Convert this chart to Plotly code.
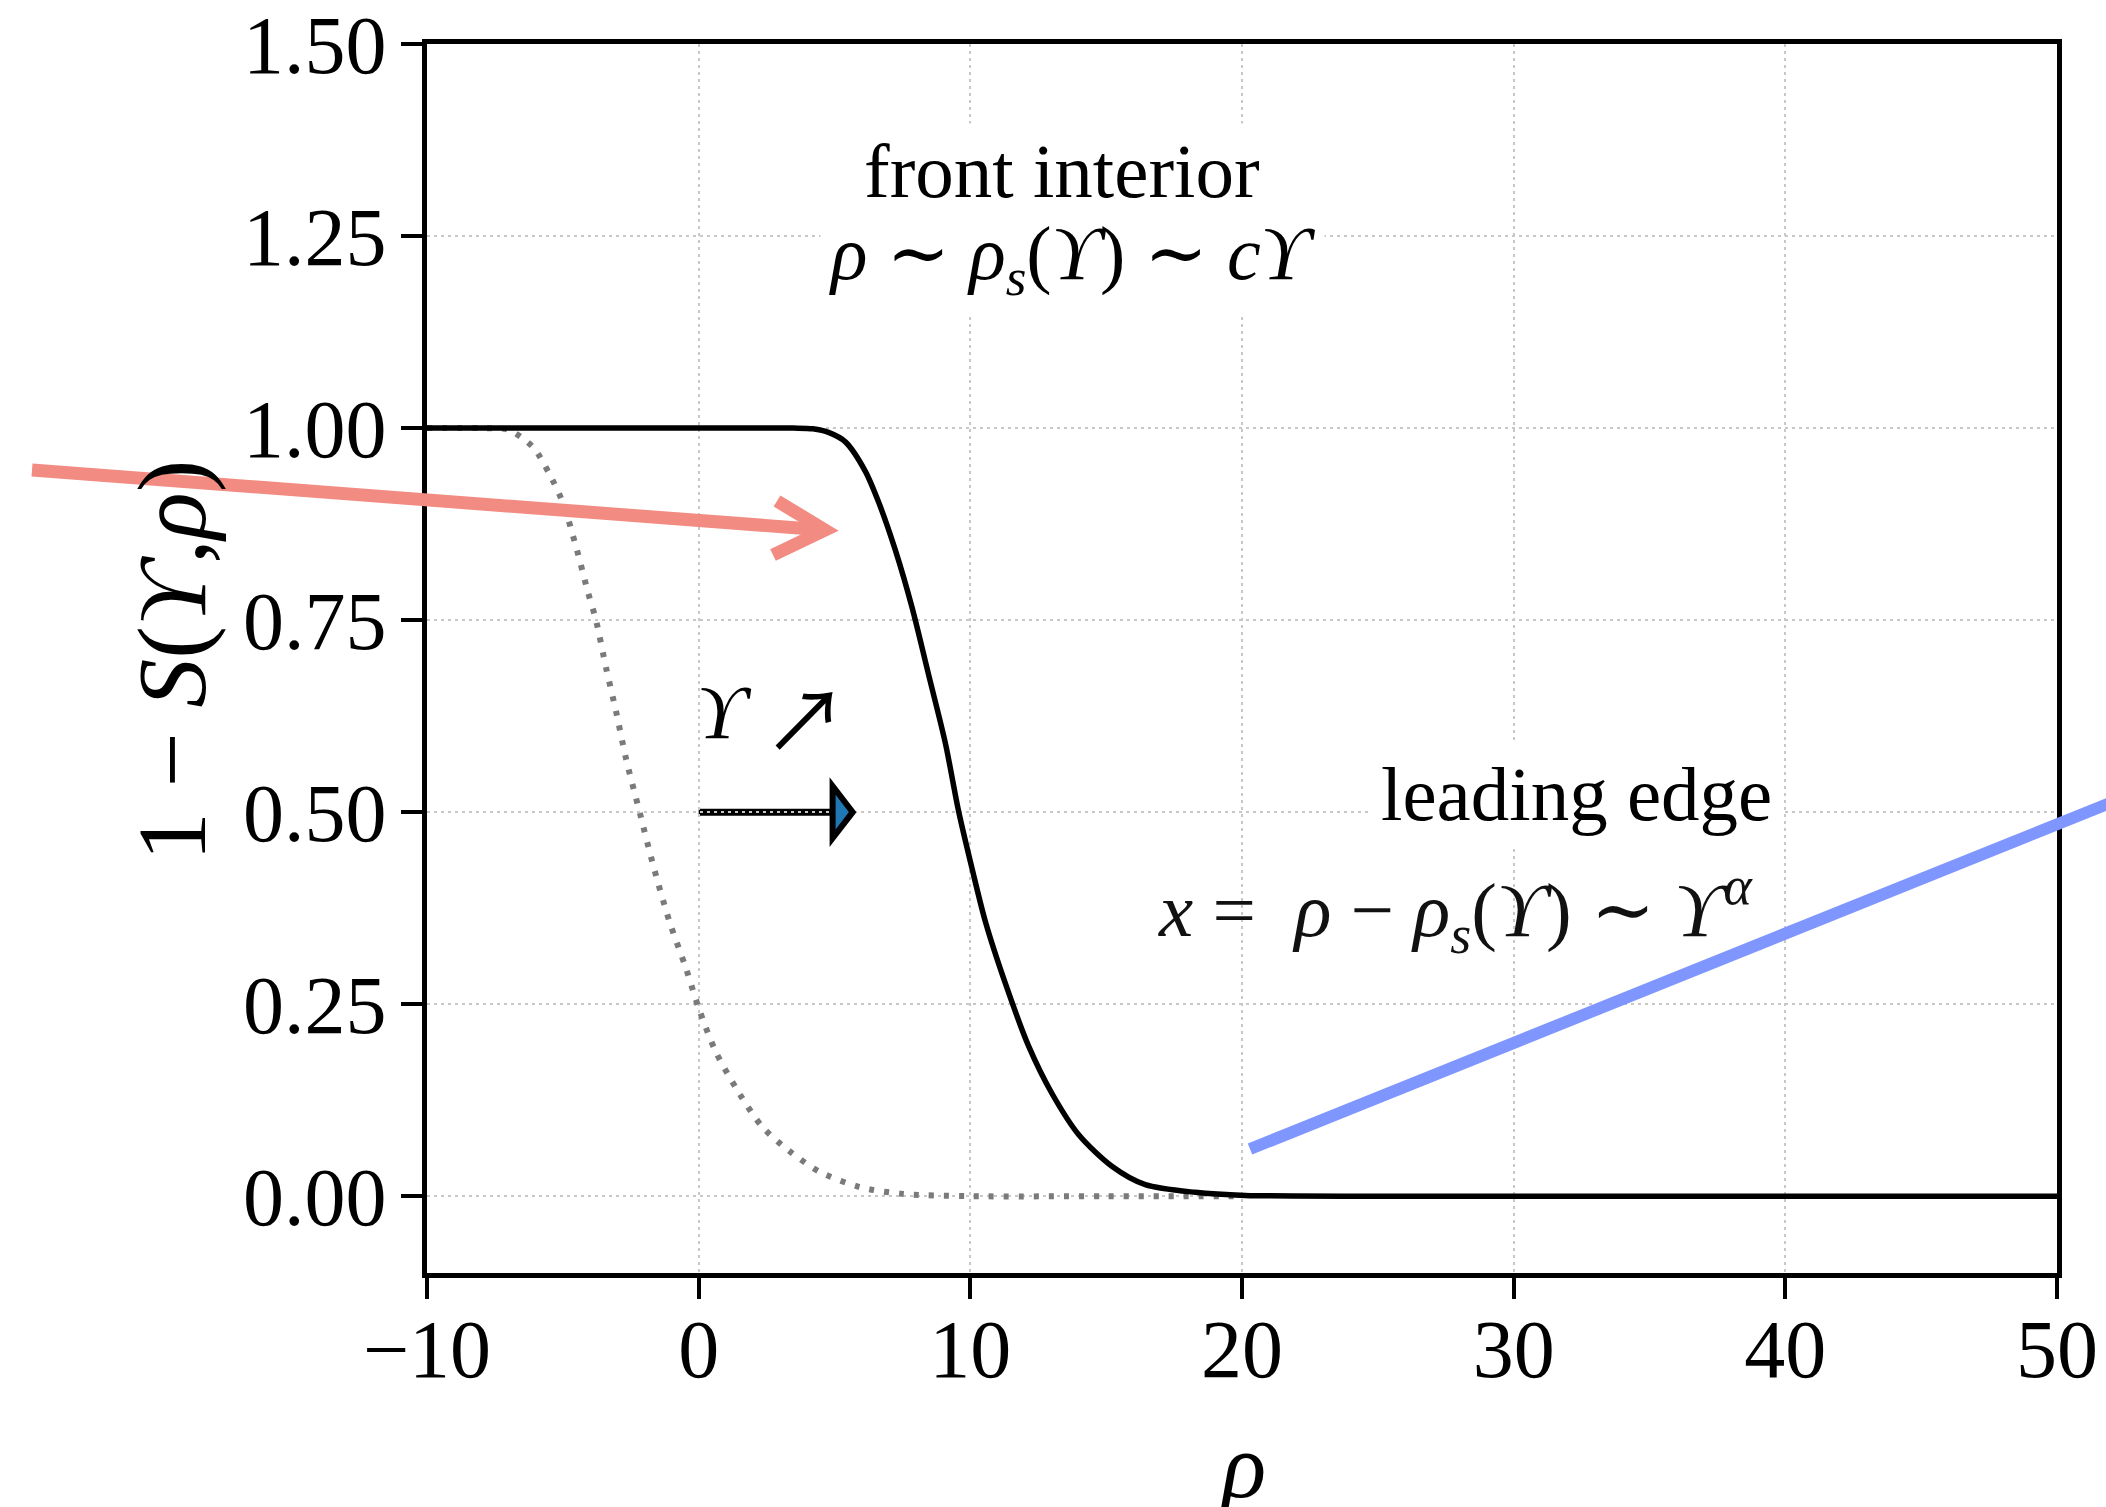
import plotly.graph_objects as go

# ---------------- data ----------------
rho_solid = [-10, 0, 3.5, 4.2, 4.8, 5.4, 6.13, 6.63, 7.24, 7.85, 8.47, 9.08, 9.57, 10.06,
             10.55, 11.29, 12.15, 13.0, 13.99, 15.21, 16.44, 18.28, 20.12, 25, 35, 50]
val_solid = [1.0, 1.0, 1.0, 0.999, 0.994, 0.982, 0.944, 0.903, 0.841, 0.767, 0.678, 0.590, 0.501,
             0.427, 0.358, 0.277, 0.195, 0.134, 0.080, 0.039, 0.015, 0.005, 0.001, 0.0, 0.0, 0.0]

rho_dotted = [-10, -8, -7.02, -6.53, -6.04, -5.49, -5.0, -4.51, -4.08, -3.78, -3.41, -3.04,
              -2.67, -2.18, -1.69, -1.08, -0.47, 0.02, 0.63, 1.49, 2.35, 3.33, 4.44,
              5.91, 7.5, 10, 15, 20]
val_dotted = [1.0, 1.0, 0.998, 0.988, 0.973, 0.940, 0.903, 0.845, 0.787, 0.750, 0.688, 0.631,
              0.569, 0.501, 0.433, 0.358, 0.297, 0.243, 0.188, 0.134, 0.090, 0.059, 0.032,
              0.012, 0.003, 0.0, 0.0, 0.0]

x_ticks = [-10, 0, 10, 20, 30, 40, 50]
y_ticks = [0.0, 0.25, 0.5, 0.75, 1.0, 1.25, 1.5]
y_tick_text = ["0.00", "0.25", "0.50", "0.75", "1.00", "1.25", "1.50"]

# ---------------- figure geometry ----------------
W, H = 2106, 1507
ML, MR, MT, MB = 427, 49, 44, 234
PW, PH = W - ML - MR, H - MT - MB


def px(xp, yp):
    """pixel position -> paper coordinates (for overlay marks)"""
    return (xp - ML) / PW, 1 - (yp - MT) / PH


FONT = "Liberation Serif, DejaVu Serif, serif"
UPS = "ϒ"

fig = go.Figure()
fig.add_trace(go.Scatter(x=rho_dotted, y=val_dotted, mode="lines",
                         line=dict(color="#7a7a7a", width=6, dash="5px,10px",
                                   shape="spline", smoothing=0.8),
                         showlegend=False, hoverinfo="skip"))
fig.add_trace(go.Scatter(x=rho_solid, y=val_solid, mode="lines",
                         line=dict(color="black", width=5.5, shape="spline", smoothing=0.8),
                         showlegend=False, hoverinfo="skip"))

axis_common = dict(
    showline=True, linecolor="black", linewidth=5, mirror=True,
    ticks="outside", ticklen=21, tickwidth=4, tickcolor="black",
    showgrid=True, gridcolor="#c8c8c8", gridwidth=2, griddash="3px,4px",
    zeroline=False, automargin=False, ticklabeloverflow="allow",
    tickfont=dict(family=FONT, size=82, color="black"),
)

fig.update_xaxes(range=[-10, 50], tickvals=x_ticks, ticklabelstandoff=-20, **axis_common)
fig.update_yaxes(range=[-0.1, 1.5], tickvals=y_ticks, ticktext=y_tick_text,
                 ticklabelstandoff=-2, **axis_common)

# ---- black "shift" arrow with dotted shaft ----
ARROW_X0, ARROW_X1, ARROW_Y = 0.0, 5.67, 0.5
HEAD_LEN, HEAD_HALF = 0.74, 0.034
fig.add_shape(type="line", xref="x", yref="y", x0=ARROW_X0, x1=ARROW_X1 - HEAD_LEN,
              y0=ARROW_Y, y1=ARROW_Y, line=dict(color="black", width=7), layer="below")
fig.add_shape(type="path", xref="x", yref="y",
              path=f"M {ARROW_X1 - HEAD_LEN} {ARROW_Y - HEAD_HALF} L {ARROW_X1} {ARROW_Y} "
                   f"L {ARROW_X1 - HEAD_LEN} {ARROW_Y + HEAD_HALF} Z",
              fillcolor="#1f77b4", line=dict(color="black", width=6), layer="above")

# ---- text annotations ----
ann = []
ann.append(dict(x=13.36, y=1.335, xref="x", yref="y", text="front interior",
                showarrow=False, font=dict(family=FONT, size=77, color="black"),
                bgcolor="white", borderpad=4))
ann.append(dict(x=13.77, y=1.22, xref="x", yref="y",
                text=f"<i>ρ</i> ∼ <i>ρ</i><sub><i>s</i></sub>(<i>{UPS}</i>) ∼ <i>c{UPS}</i>",
                showarrow=False, font=dict(family=FONT, size=76, color="black"),
                bgcolor="white", borderpad=8))
ann.append(dict(x=0.96, y=0.631, xref="x", yref="y", text=f"<i>{UPS}</i>",
                showarrow=False, font=dict(family=FONT, size=76, color="black")))
ann.append(dict(x=3.9, y=0.626, xref="x", yref="y", text="↗",
                showarrow=False,
                font=dict(family="Noto Sans CJK JP, DejaVu Sans, sans-serif", size=84, color="black")))
ann.append(dict(x=32.3, y=0.523, xref="x", yref="y", text="leading edge",
                showarrow=False, font=dict(family=FONT, size=77, color="black"),
                bgcolor="white", borderpad=10))
ann.append(dict(x=27.86, y=0.372, xref="x", yref="y",
                text=f"<i>x</i> =  <i>ρ</i> − <i>ρ</i><sub><i>s</i></sub>(<i>{UPS}</i>) ∼ <i>{UPS}</i><sup><i>α</i></sup>",
                showarrow=False, font=dict(family=FONT, size=77, color="#111111")))

# axis titles
tx, ty = px(1242, 1466)
ann.append(dict(x=tx, y=ty, xref="paper", yref="paper", text="<i>ρ</i>",
                showarrow=False, xanchor="center", yanchor="middle",
                font=dict(family=FONT, size=92, color="black")))
tx, ty = px(172, 660)
ann.append(dict(x=tx, y=ty, xref="paper", yref="paper",
                text=f"1 − <i>S</i>(<i>{UPS}</i>,<i>ρ</i>)", textangle=-90,
                showarrow=False, xanchor="center", yanchor="middle",
                font=dict(family=FONT, size=98, color="black")))

# ---- overlay marks (salmon arrow, blue line) ----
SALMON = "#F28B82"
BLUE = "#7F96FF"
a0 = px(32, 470)
a1 = px(825, 530)
fig.add_shape(type="line", xref="paper", yref="paper", x0=a0[0], y0=a0[1], x1=a1[0], y1=a1[1],
              line=dict(color=SALMON, width=13), layer="above")
c0 = px(777, 501)
c2 = px(773, 555)
fig.add_shape(type="path", xref="paper", yref="paper",
              path=f"M {c0[0]} {c0[1]} L {a1[0]} {a1[1]} L {c2[0]} {c2[1]}",
              line=dict(color=SALMON, width=13), layer="above")
b0 = px(1250, 1149)
b1 = px(2120, 799)
fig.add_shape(type="line", xref="paper", yref="paper", x0=b0[0], y0=b0[1], x1=b1[0], y1=b1[1],
              line=dict(color=BLUE, width=12), layer="above")

fig.update_layout(
    width=W, height=H,
    margin=dict(l=ML, r=MR, t=MT, b=MB, autoexpand=False),
    paper_bgcolor="white", plot_bgcolor="white",
    annotations=ann,
    showlegend=False,
)

fig.write_html("out.html")
